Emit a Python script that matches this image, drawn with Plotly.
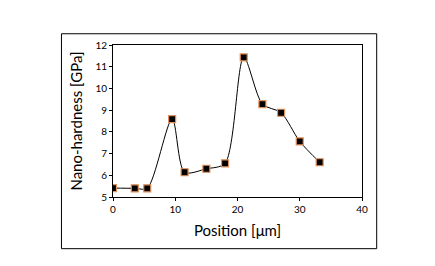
import plotly.graph_objects as go

position = [0, 3.5, 5.5, 9.5, 11.5, 15, 18, 21, 24, 27, 30, 33.2]
hardness = [5.41, 5.40, 5.40, 8.59, 6.14, 6.30, 6.55, 11.43, 9.28, 8.88, 7.56, 6.60]
x_ticks = [0, 10, 20, 30, 40]
y_ticks = [5, 6, 7, 8, 9, 10, 11, 12]

fig = go.Figure()
fig.add_trace(go.Scatter(
    x=position, y=hardness, mode="lines+markers",
    line=dict(color="black", width=1, shape="spline", smoothing=0.8),
    marker=dict(symbol="square", size=7, color="black",
                line=dict(color="#e0905a", width=1.2)),
    showlegend=False,
))

axis_common = dict(showline=True, linecolor="black", linewidth=1, mirror=True,
                   ticks="outside", ticklen=3, tickcolor="black", showgrid=False,
                   zeroline=False, automargin=False,
                   tickfont=dict(family="Lato, sans-serif", size=10, color="black"))

fig.update_xaxes(range=[0, 40], tickvals=x_ticks, **axis_common,
                 title=dict(text="Position [μm]", font=dict(family="Lato, sans-serif", size=15, color="black"), standoff=11))
fig.update_yaxes(range=[5, 12], tickvals=y_ticks, **axis_common,
                 title=dict(text="Nano-hardness [GPa]", font=dict(family="Lato, sans-serif", size=15, color="black"), standoff=9))

fig.add_shape(type="rect", xref="paper", yref="paper",
              x0=-0.207, x1=1.059, y0=-0.340, y1=1.074,
              line=dict(color="black", width=1))

fig.update_layout(
    width=435, height=266,
    margin=dict(l=105, r=81, t=37, b=77),
    paper_bgcolor="white", plot_bgcolor="white",
)
fig.write_html("out.html")
